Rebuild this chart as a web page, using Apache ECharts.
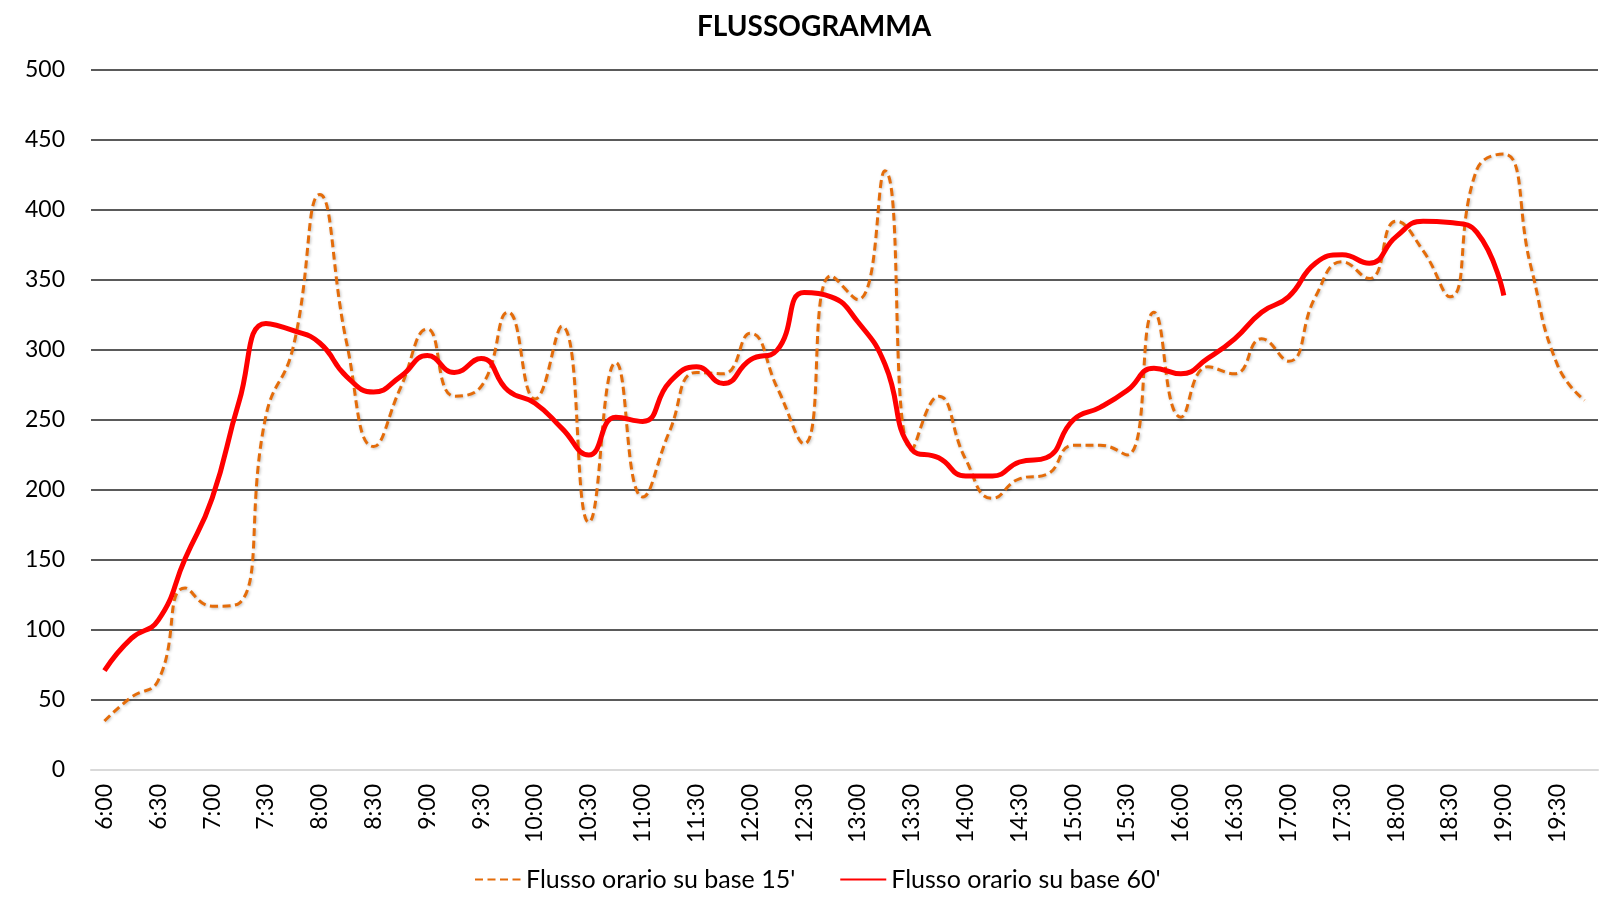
<!DOCTYPE html>
<html>
<head>
<meta charset="utf-8">
<script src="https://cdn.jsdelivr.net/npm/echarts@6/dist/echarts.min.js"></script>
<style>
html,body{margin:0;padding:0;background:#fff;}
#chart{width:1608px;height:897px;}
</style>
</head>
<body>
<div id="chart"></div>
<script>
const categories = ["6:00","6:15","6:30","6:45","7:00","7:15","7:30","7:45","8:00","8:15","8:30","8:45",
  "9:00","9:15","9:30","9:45","10:00","10:15","10:30","10:45","11:00","11:15","11:30","11:45",
  "12:00","12:15","12:30","12:45","13:00","13:15","13:30","13:45","14:00","14:15","14:30","14:45",
  "15:00","15:15","15:30","15:45","16:00","16:15","16:30","16:45","17:00","17:15","17:30","17:45",
  "18:00","18:15","18:30","18:45","19:00","19:15","19:30","19:45"];

const flow15 = [35,52,64,130,117,119,253,301,411,305,231,273,315,267,274,327,265,317,177,291,
  195,242,284,283,312,273,233,353,336,428,229,267,222,194,208,211,232,232,225,327,
  252,288,283,308,292,338,363,351,392,371,338,429,440,360,289,264];

const flow60 = [71,94,107,151,194,263,319,314,305,281,270,281,296,284,294,271,262,244,225,252,
  249,277,288,276,293,300,341,338,320,290,229,223,210,210,220,223,250,259,271,287,
  283,294,308,327,338,362,368,362,381,392,391,384,339];

const yTicks = {min:0, max:500, interval:50};
const title = "FLUSSOGRAMMA";
const seriesNames = ["Flusso orario su base 15'", "Flusso orario su base 60'"];

const chart = echarts.init(document.getElementById('chart'), null, {renderer:'canvas'});
const FONT = 'Lato';
chart.setOption({
  animation:false,
  backgroundColor:'#ffffff',
  title:{
    text:title, left:692, top:8,
    textStyle:{fontFamily:FONT, fontWeight:'bold', fontSize:28, color:'#000'}
  },
  legend:{
    data:seriesNames, bottom:0, left:474, padding:[5,0,5,0],
    itemWidth:46, itemHeight:14, itemGap:44,
    itemStyle:{opacity:0},
    textStyle:{fontFamily:FONT, fontSize:25, color:'#000'}
  },
  grid:{left:91, right:10, top:70, bottom:127, containLabel:false},
  xAxis:{
    type:'category', data:categories, boundaryGap:true,
    axisLine:{show:true, lineStyle:{color:'#d9d9d9', width:2}},
    axisTick:{show:false},
    axisLabel:{interval:1, rotate:90, margin:14, fontFamily:FONT, fontSize:23, color:'#000'},
    splitLine:{show:false}
  },
  yAxis:{
    type:'value', min:yTicks.min, max:yTicks.max, interval:yTicks.interval,
    axisLine:{show:false}, axisTick:{show:false},
    axisLabel:{margin:26, fontFamily:FONT, fontSize:23, color:'#000'},
    splitLine:{show:true, lineStyle:{color:'#5a5a5a', width:2}}
  },
  series:[
    {
      name:seriesNames[0], type:'line', data:flow15, smooth:0.5, symbol:'none',
      lineStyle:{color:'#E46C0A', width:3, type:[8,4.5],
        shadowColor:'rgba(0,0,0,0.25)', shadowBlur:3, shadowOffsetX:1, shadowOffsetY:1},
      itemStyle:{color:'#E46C0A'}, z:2
    },
    {
      name:seriesNames[1], type:'line', data:flow60, smooth:0.5, symbol:'none',
      lineStyle:{color:'#FF0000', width:5},
      itemStyle:{color:'#FF0000'}, z:3
    }
  ]
});
</script>
</body>
</html>
